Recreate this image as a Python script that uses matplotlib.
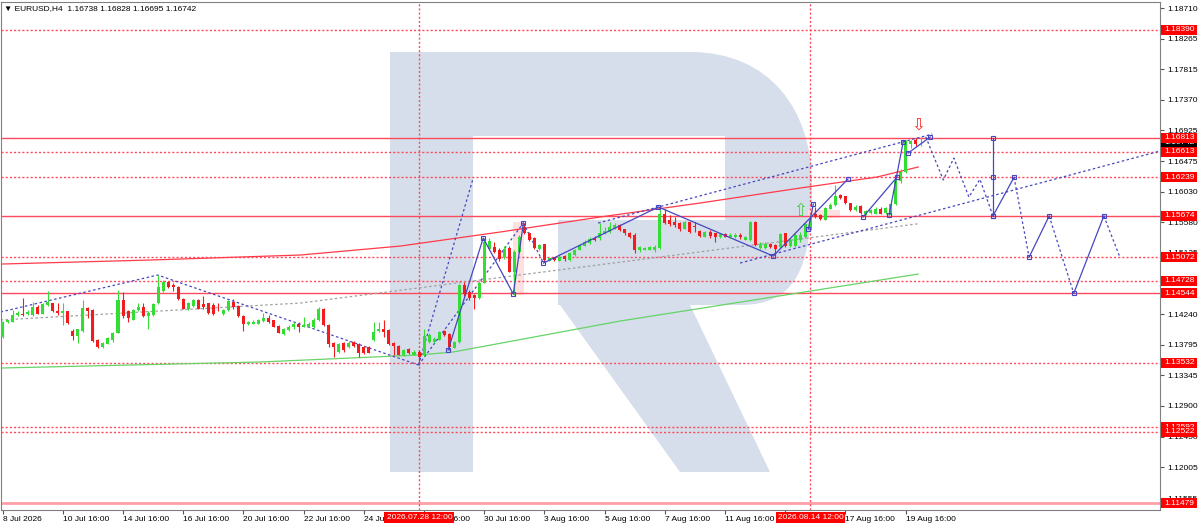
import matplotlib
matplotlib.use("Agg")
import numpy as np
import matplotlib.pyplot as plt
from matplotlib.patches import Rectangle, PathPatch, Polygon
from matplotlib.path import Path
from matplotlib.transforms import blended_transform_factory

plt.rcParams['font.family'] = ['Liberation Sans', 'DejaVu Sans']

# EURUSD H4 candles, bar 0 = 8 Jul 2026 16:00
opens = [1.1391, 1.1412, 1.1413, 1.1423, 1.1425, 1.1424, 1.1423, 1.1435, 1.1425, 1.1437,
         1.1440, 1.1429, 1.1426, 1.1428, 1.1400, 1.1392, 1.1400, 1.1433, 1.1430, 1.1387,
         1.1376, 1.1381, 1.1386, 1.1397, 1.1444, 1.1429, 1.1416, 1.1430, 1.1435, 1.1421,
         1.1423, 1.1440, 1.1458, 1.1471, 1.1466, 1.1464, 1.1446, 1.1432, 1.1436, 1.1445,
         1.1439, 1.1440, 1.1437, 1.1432, 1.1424, 1.1430, 1.1442, 1.1436, 1.1421, 1.1410,
         1.1410, 1.1410, 1.1414, 1.1419, 1.1415, 1.1407, 1.1395, 1.1401, 1.1406, 1.1409,
         1.1406, 1.1406, 1.1405, 1.1415, 1.1432, 1.1408, 1.1382, 1.1369, 1.1382, 1.1376,
         1.1384, 1.1381, 1.1376, 1.1376, 1.1386, 1.1400, 1.1402, 1.1401, 1.1382, 1.1377,
         1.1364, 1.1373, 1.1365, 1.1369, 1.1364, 1.1384, 1.1384, 1.1387, 1.1399, 1.1395,
         1.1375, 1.1384, 1.1467, 1.1457, 1.1452, 1.1447, 1.1470, 1.1519, 1.1522, 1.1518,
         1.1507, 1.1520, 1.1486, 1.1515, 1.1551, 1.1543, 1.1535, 1.1519, 1.1526, 1.1502,
         1.1507, 1.1502, 1.1509, 1.1503, 1.1510, 1.1518, 1.1524, 1.1528, 1.1535, 1.1535,
         1.1542, 1.1544, 1.1549, 1.1554, 1.1548, 1.1543, 1.1540, 1.1518, 1.1518, 1.1518,
         1.1517, 1.1520, 1.1571, 1.1561, 1.1559, 1.1557, 1.1549, 1.1558, 1.1553, 1.1546,
         1.1537, 1.1544, 1.1542, 1.1536, 1.1541, 1.1536, 1.1536, 1.1540, 1.1533, 1.1532,
         1.1559, 1.1520, 1.1520, 1.1527, 1.1525, 1.1522, 1.1542, 1.1523, 1.1523, 1.1532,
         1.1536, 1.1547, 1.1570, 1.1569, 1.1562, 1.1578, 1.1583, 1.1598, 1.1596, 1.1586,
         1.1576, 1.1582, 1.1570, 1.1572, 1.1571, 1.1578, 1.1572, 1.1569, 1.1585, 1.1619,
         1.1632, 1.1672, 1.1678, 1.16738]
highs = [1.1414, 1.1416, 1.1430, 1.1428, 1.1447, 1.1430, 1.1442, 1.1437, 1.1441, 1.1458,
         1.1441, 1.1440, 1.1441, 1.1429, 1.1403, 1.1403, 1.1444, 1.1435, 1.1431, 1.1388,
         1.1384, 1.1391, 1.1398, 1.1459, 1.1457, 1.1430, 1.1432, 1.1441, 1.1441, 1.1428,
         1.1441, 1.1481, 1.1474, 1.1473, 1.1470, 1.1465, 1.1447, 1.1442, 1.1446, 1.1446,
         1.1450, 1.1441, 1.1441, 1.1440, 1.1432, 1.1445, 1.1446, 1.1437, 1.1423, 1.1414,
         1.1416, 1.1417, 1.1426, 1.1423, 1.1416, 1.1408, 1.1404, 1.1408, 1.1413, 1.1413,
         1.1420, 1.1413, 1.1418, 1.1434, 1.1433, 1.1409, 1.1384, 1.1382, 1.1384, 1.1385,
         1.1385, 1.1382, 1.1377, 1.1377, 1.1412, 1.1413, 1.1415, 1.1402, 1.1384, 1.1379,
         1.1373, 1.1374, 1.1372, 1.1372, 1.1403, 1.1396, 1.1390, 1.1399, 1.1401, 1.1396,
         1.1385, 1.1468, 1.1471, 1.1459, 1.1454, 1.1472, 1.1535, 1.1535, 1.1530, 1.1520,
         1.1523, 1.1523, 1.1518, 1.1540, 1.1557, 1.1544, 1.1536, 1.1527, 1.1527, 1.1508,
         1.1508, 1.1510, 1.1510, 1.1515, 1.1519, 1.1527, 1.1532, 1.1536, 1.1538, 1.1557,
         1.1552, 1.1558, 1.1557, 1.1556, 1.1549, 1.1544, 1.1542, 1.1523, 1.1522, 1.1523,
         1.1525, 1.1581, 1.1578, 1.1569, 1.1566, 1.1559, 1.1560, 1.1559, 1.1559, 1.1547,
         1.1546, 1.1547, 1.1543, 1.1543, 1.1543, 1.1542, 1.1542, 1.1542, 1.1538, 1.1560,
         1.1560, 1.1530, 1.1530, 1.1528, 1.1526, 1.1543, 1.1543, 1.1535, 1.1542, 1.1544,
         1.1558, 1.1569, 1.1581, 1.1571, 1.1581, 1.1586, 1.1613, 1.1600, 1.1597, 1.1587,
         1.1583, 1.1583, 1.1576, 1.1578, 1.1580, 1.1580, 1.1581, 1.1587, 1.1621, 1.1636,
         1.1678, 1.1679, 1.1681, 1.16828]
lows = [1.1389, 1.1411, 1.1412, 1.1421, 1.1421, 1.1423, 1.1422, 1.1424, 1.1424, 1.1436,
        1.1427, 1.1423, 1.1408, 1.1410, 1.1386, 1.1382, 1.1398, 1.1418, 1.1384, 1.1374,
        1.1374, 1.1380, 1.1384, 1.1396, 1.1419, 1.1413, 1.1415, 1.1429, 1.1420, 1.1403,
        1.1421, 1.1439, 1.1457, 1.1462, 1.1458, 1.1445, 1.1431, 1.1430, 1.1435, 1.1431,
        1.1432, 1.1425, 1.1423, 1.1429, 1.1423, 1.1429, 1.1432, 1.1420, 1.1400, 1.1408,
        1.1409, 1.1409, 1.1413, 1.1411, 1.1405, 1.1396, 1.1393, 1.1400, 1.1403, 1.1398,
        1.1405, 1.1405, 1.1404, 1.1414, 1.1407, 1.1376, 1.1361, 1.1368, 1.1369, 1.1375,
        1.1376, 1.1362, 1.1366, 1.1367, 1.1385, 1.1398, 1.1391, 1.1379, 1.1364, 1.1364,
        1.1363, 1.1366, 1.1364, 1.1350, 1.1363, 1.1382, 1.1382, 1.1386, 1.1392, 1.1372,
        1.1374, 1.1382, 1.1450, 1.1445, 1.1432, 1.1446, 1.1469, 1.1517, 1.1513, 1.1502,
        1.1505, 1.1485, 1.1452, 1.1514, 1.1541, 1.1531, 1.1519, 1.1518, 1.1501, 1.1501,
        1.1502, 1.1501, 1.1502, 1.1502, 1.1509, 1.1517, 1.1523, 1.1527, 1.1531, 1.1533,
        1.1541, 1.1543, 1.1548, 1.1546, 1.1540, 1.1535, 1.1513, 1.1515, 1.1517, 1.1517,
        1.1515, 1.1519, 1.1556, 1.1553, 1.1552, 1.1546, 1.1548, 1.1543, 1.1544, 1.1537,
        1.1536, 1.1535, 1.1530, 1.1535, 1.1536, 1.1535, 1.1535, 1.1534, 1.1532, 1.1531,
        1.1524, 1.1519, 1.1519, 1.1520, 1.1510, 1.1521, 1.1522, 1.1522, 1.1522, 1.1530,
        1.1535, 1.1546, 1.1564, 1.1561, 1.1561, 1.1577, 1.1582, 1.1592, 1.1585, 1.1575,
        1.1575, 1.1570, 1.1569, 1.1571, 1.1570, 1.1570, 1.1571, 1.1567, 1.1584, 1.1615,
        1.1630, 1.1666, 1.1670, 1.16695]
closes = [1.1413, 1.1415, 1.1423, 1.1426, 1.1423, 1.1427, 1.1435, 1.1425, 1.1439, 1.1442,
          1.1428, 1.1426, 1.1428, 1.1411, 1.1392, 1.1402, 1.1433, 1.1429, 1.1385, 1.1376,
          1.1382, 1.1389, 1.1397, 1.1444, 1.1421, 1.1419, 1.1430, 1.1435, 1.1421, 1.1426,
          1.1439, 1.1463, 1.1471, 1.1463, 1.1463, 1.1446, 1.1432, 1.1441, 1.1444, 1.1432,
          1.1434, 1.1426, 1.1425, 1.1431, 1.1430, 1.1443, 1.1435, 1.1421, 1.1410, 1.1413,
          1.1413, 1.1415, 1.1419, 1.1412, 1.1406, 1.1397, 1.1403, 1.1406, 1.1409, 1.1406,
          1.1408, 1.1410, 1.1415, 1.1432, 1.1408, 1.1381, 1.1376, 1.1380, 1.1372, 1.1382,
          1.1377, 1.1367, 1.1367, 1.1368, 1.1398, 1.1403, 1.1398, 1.1381, 1.1377, 1.1365,
          1.1372, 1.1367, 1.1369, 1.1362, 1.1392, 1.1394, 1.1388, 1.1398, 1.1393, 1.1376,
          1.1383, 1.1467, 1.1454, 1.1447, 1.1447, 1.1470, 1.1530, 1.1531, 1.1515, 1.1504,
          1.1519, 1.1486, 1.1515, 1.1537, 1.1543, 1.1532, 1.1520, 1.1525, 1.1503, 1.1506,
          1.1503, 1.1508, 1.1504, 1.1513, 1.1517, 1.1525, 1.1530, 1.1534, 1.1532, 1.1543,
          1.1546, 1.1552, 1.1554, 1.1547, 1.1542, 1.1536, 1.1518, 1.1522, 1.1521, 1.1522,
          1.1522, 1.1570, 1.1557, 1.1556, 1.1554, 1.1548, 1.1558, 1.1544, 1.1552, 1.1538,
          1.1544, 1.1538, 1.1536, 1.1541, 1.1537, 1.1539, 1.1539, 1.1536, 1.1537, 1.1558,
          1.1525, 1.1527, 1.1527, 1.1522, 1.1519, 1.1541, 1.1523, 1.1532, 1.1539, 1.1539,
          1.1556, 1.1565, 1.1566, 1.1563, 1.1579, 1.1583, 1.1597, 1.1593, 1.1586, 1.1576,
          1.1581, 1.1572, 1.1574, 1.1576, 1.1577, 1.1571, 1.1579, 1.1585, 1.1619, 1.1632,
          1.1675, 1.1677, 1.1673, 1.16742]

time_ticks = [0, 12, 24, 36, 48, 60, 72, 84, 96, 108, 120, 132, 144, 156, 168, 180]
time_labels = ["8 Jul 2026", "10 Jul 16:00", "14 Jul 16:00", "16 Jul 16:00", "20 Jul 16:00",
               "22 Jul 16:00", "24 Jul 16:00", "28 Jul 16:00", "30 Jul 16:00", "3 Aug 16:00",
               "5 Aug 16:00", "7 Aug 16:00", "11 Aug 16:00", "13 Aug 16:00", "17 Aug 16:00",
               "19 Aug 16:00"]
price_ticks = [1.18710, 1.18265, 1.17815, 1.17370, 1.16925, 1.16475, 1.16030, 1.15580, 1.15135,
               1.14690, 1.14240, 1.13795, 1.13345, 1.12900, 1.12450, 1.12005, 1.11555]

solid_levels = [1.16813, 1.15674, 1.14544]
dotted_levels = [1.18390, 1.16613, 1.16239, 1.15072, 1.14728, 1.13532, 1.12592, 1.12522]
bottom_level = 1.11479
box_levels = [1.18390, 1.16613, 1.16813, 1.16239, 1.15674, 1.15072, 1.14728, 1.14544,
              1.13532, 1.12592, 1.12522, 1.11479]
last_price = 1.16742
vline_bars = [83, 161]
vline_labels = ["2026.07.28 12:00", "2026.08.14 12:00"]

# indicator / drawing objects (bar, price)
red_ma_x = [-0.4, 29.5, 59.4, 79.3, 99.2, 119.1, 139.0, 159.0, 174.3, 182.5]
red_ma_y = [1.14972, 1.15031, 1.15104, 1.15235, 1.15440, 1.15659, 1.15863, 1.16082, 1.16243, 1.16389]
green_ma_x = [-0.4, 51.4, 82.9, 89.8, 123.1, 182.5]
green_ma_y = [1.13454, 1.13542, 1.13644, 1.13688, 1.14140, 1.14826]
gray_x = [-0.4, 59.4, 123.1, 182.5]
gray_y = [1.14155, 1.14403, 1.15000, 1.15560]

dotted_blue = [
    ([-0.4, 30.9, 82.9], [1.14272, 1.14812, 1.13498]),
    ([82.9, 93.8], [1.13498, 1.16228]),
    ([82.9, 103.8], [1.13498, 1.15571]),
    ([103.8, 107.8], [1.15571, 1.14987]),
    ([118.7, 185.3], [1.15571, 1.16870]),
    ([147.0, 230.7], [1.14987, 1.16622]),
    ([184.0, 187.5, 189.6, 192.6, 194.8, 197.4], [1.1683, 1.1620, 1.1652, 1.1595, 1.1621, 1.15674]),
    ([201.6, 204.6], [1.16239, 1.15072]),
    ([208.6, 213.5], [1.15674, 1.14544]),
    ([219.5, 222.7], [1.15674, 1.15072]),
]
solid_blue = [
    ([88.8, 95.8, 101.8, 103.8], [1.13717, 1.15352, 1.14534, 1.15571]),
    ([107.8, 130.7, 153.6, 168.5], [1.14987, 1.15805, 1.15089, 1.16213]),
    ([160.6, 161.6], [1.15483, 1.15848]),
    ([171.5, 178.3], [1.15659, 1.16243]),
    ([176.7, 179.5], [1.15688, 1.16754]),
    ([180.5, 184.9], [1.16593, 1.16827]),
    ([197.4, 197.4, 197.4], [1.15674, 1.16239, 1.16813]),
    ([197.4, 201.6], [1.15674, 1.16239]),
    ([204.6, 208.6], [1.15072, 1.15674]),
    ([213.5, 219.5], [1.14544, 1.15674]),
]
pink_boxes = [(101.7, 103.9, 1.14520, 1.15586), (160.6, 167.0, 1.15644, 1.15761)]

BULL = '#33dd33'
BEAR = '#f21c1c'
LVL = '#ff4a5e'
BLUE = '#4646c0'

fig = plt.figure(figsize=(12, 5.26), dpi=100, facecolor='white')
ax = fig.add_axes([0.0005, 0.0304, 0.9662, 0.9658])
ax.set_xlim(-0.4, 230.7)
ax.set_ylim(1.11381, 1.18798)
ax.set_facecolor('white')


def fpx(x, y):
    return (x / 1200.0, 1 - y / 526.0)


# watermark logo
C4, L2, M = Path.CURVE4, Path.LINETO, Path.MOVETO
bowl = [((473, 52), M), ((690, 52), L2), ((770, 52), C4), ((812, 110), C4), ((812, 185), C4),
        ((812, 270), C4), ((795, 305), C4), ((740, 305), C4), ((558, 305), L2), ((558, 220), L2),
        ((725, 220), L2), ((725, 136), L2), ((473, 136), L2), ((473, 52), Path.CLOSEPOLY)]
verts = [fpx(*p) for p, _ in bowl]
codes = [c for _, c in bowl]
wm = '#d5deea'
ax.add_patch(PathPatch(Path(verts, codes), transform=fig.transFigure, fc=wm, ec='none', zorder=0.5))
ax.add_patch(Polygon([fpx(390, 52), fpx(473, 52), fpx(473, 472), fpx(390, 472)],
                     transform=fig.transFigure, fc=wm, ec='none', zorder=0.5))
ax.add_patch(Polygon([fpx(560, 305), fpx(690, 305), fpx(770, 472), fpx(680, 472)],
                     transform=fig.transFigure, fc=wm, ec='none', zorder=0.5))

for x0, x1, y0, y1 in pink_boxes:
    ax.add_patch(Rectangle((x0, y0), x1 - x0, y1 - y0, fc='#fde0e0', ec='none', zorder=0.8))

# horizontal levels
for lv in solid_levels:
    ax.axhline(lv, color=LVL, lw=1.0, zorder=1)
for lv in dotted_levels:
    ax.axhline(lv, color=LVL, lw=1.0, ls=(0, (1.5, 1.5)), zorder=1)
ax.axhline(bottom_level, color='#ffa0a8', lw=2.0, zorder=1)
for vb in vline_bars:
    ax.axvline(vb, color=LVL, lw=1.0, ls=(0, (1.5, 1.5)), zorder=1)

ax.plot(red_ma_x, red_ma_y, color='#ff3a4a', lw=0.9, zorder=2)
ax.plot(green_ma_x, green_ma_y, color='#66d466', lw=0.9, zorder=2)
ax.plot(gray_x, gray_y, color='#a0a0a0', lw=0.9, ls=(0, (2, 2)), zorder=2)
for xs, ys in dotted_blue:
    ax.plot(xs, ys, color=BLUE, lw=0.9, ls=(0, (2, 2)), zorder=2)

# candles
o = np.array(opens)
h = np.array(highs)
l = np.array(lows)
c = np.array(closes)
xb = np.arange(len(c))
cols = np.where(c >= o, BULL, BEAR)
ax.vlines(xb, l, h, colors=cols, lw=0.8, zorder=3)
ax.bar(xb, np.maximum(np.abs(c - o), 0.00008), width=0.6, bottom=np.minimum(o, c),
       color=cols, linewidth=0, zorder=3.1)

for xs, ys in solid_blue:
    ax.plot(xs, ys, color=BLUE, lw=0.9, marker='s', ms=3, mfc='none', mec=BLUE, mew=0.8, zorder=4)

ax.text(182.5, 1.1700, '\u21e9', color='#ff2a2a', fontsize=12, ha='center', va='center', zorder=5)
ax.text(159, 1.1574, '\u21e7', color='#44cc44', fontsize=12, ha='center', va='center', zorder=5)

# axes styling
for s in ax.spines.values():
    s.set_color('#808080')
    s.set_linewidth(0.8)
ax.yaxis.tick_right()
ax.set_yticks(price_ticks)
ax.set_yticklabels([f'{v:.5f}' for v in price_ticks])
ax.set_xticks(time_ticks)
ax.set_xticklabels(time_labels, ha='left')
ax.tick_params(axis='y', direction='out', length=3, pad=2, labelsize=6, color='#555555')
ax.tick_params(axis='x', direction='out', length=3, pad=1.5, labelsize=6, color='#555555')

# price boxes on right axis
ty = blended_transform_factory(ax.transAxes, ax.transData)
bx0, bx1 = 1.0009, 1.0323
hh = 0.00073
ax.add_patch(Rectangle((bx0, last_price - hh), bx1 - bx0, 2 * hh, transform=ty, fc='black',
                       ec='none', clip_on=False, zorder=9))
ax.text((bx0 + bx1) / 2, last_price, f'{last_price:.5f}', transform=ty, color='white',
        fontsize=6, ha='center', va='center', clip_on=False, zorder=9.5)
for i, lv in enumerate(box_levels):
    z = 10 + i * 0.1
    ax.add_patch(Rectangle((bx0, lv - hh), bx1 - bx0, 2 * hh, transform=ty, fc='#ff0000',
                           ec='none', clip_on=False, zorder=z))
    ax.text((bx0 + bx1) / 2, lv, f'{lv:.5f}', transform=ty, color='white', fontsize=6,
            ha='center', va='center', clip_on=False, zorder=z + 0.05)

# time boxes
tx = blended_transform_factory(ax.transData, ax.transAxes)
for vb, lab in zip(vline_bars, vline_labels):
    ax.add_patch(Rectangle((vb - 6.9, -0.0265), 13.8, 0.0225, transform=tx, fc='#ff0000',
                           ec='none', clip_on=False, zorder=10))
    ax.text(vb + 0.2, -0.0152, lab, transform=tx, color='white', fontsize=6, ha='center',
            va='center', clip_on=False, zorder=11)

fig.text(4 / 1200, 1 - 9 / 526, '\u25bc EURUSD,H4  1.16738 1.16828 1.16695 1.16742',
         fontsize=6, va='center', ha='left')

fig.savefig('out.png', dpi=100, facecolor='white')
